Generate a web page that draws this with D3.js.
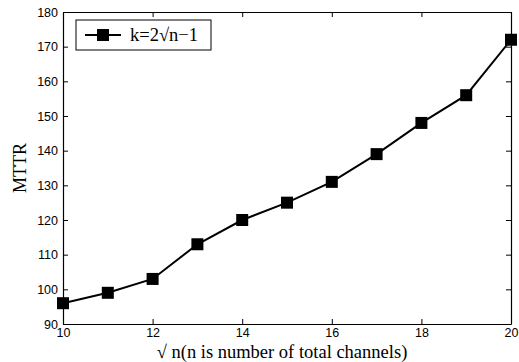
<!DOCTYPE html>
<html>
<head>
<meta charset="utf-8">
<script src="https://cdn.jsdelivr.net/npm/d3@7"></script>
<style>
  body { margin: 0; background: #fff; }
  .tick text { font-family: "Liberation Sans", Arial, sans-serif; font-size: 12.5px; fill: #000; }
</style>
</head>
<body>
<div id="chart"></div>
<script>
// MTTR line chart

var sqrtN = [10, 11, 12, 13, 14, 15, 16, 17, 18, 19, 20];
var mttr = [96, 99, 103, 113, 120, 125, 131, 139, 148, 156, 172];
var xTicks = [10, 12, 14, 16, 18, 20];
var yTicks = [90, 100, 110, 120, 130, 140, 150, 160, 170, 180];
var seriesName = "k=2\u221An\u22121";

var margin = {top: 12, right: 8, bottom: 38, left: 63};
var width = 519 - margin.left - margin.right;
var height = 362 - margin.top - margin.bottom;

var svg = d3.select("#chart")
    .append("svg")
    .attr("width", 519)
    .attr("height", 362);

var g = svg.append("g")
    .attr("transform", "translate(" + margin.left + "," + margin.top + ")");

var x = d3.scaleLinear().domain([10, 20]).range([0, width]);
var y = d3.scaleLinear().domain([90, 180]).range([height, 0]);

// axes with inward ticks, mirrored on top and right
g.append("g")
    .attr("transform", "translate(0," + height + ")")
    .call(d3.axisBottom(x).tickValues(xTicks).tickSizeInner(-5).tickSizeOuter(0).tickPadding(4));
g.append("g")
    .call(d3.axisLeft(y).tickValues(yTicks).tickSizeInner(-5).tickSizeOuter(0).tickPadding(5));
g.append("g")
    .call(d3.axisTop(x).tickValues(xTicks).tickSizeInner(-5).tickSizeOuter(0).tickFormat(""));
g.append("g")
    .attr("transform", "translate(" + width + ",0)")
    .call(d3.axisRight(y).tickValues(yTicks).tickSizeInner(-5).tickSizeOuter(0).tickFormat(""));

g.selectAll(".domain").attr("stroke", "#000").attr("stroke-width", 1.2);
g.selectAll(".tick line").attr("stroke", "#000");

// line + square markers
var line = d3.line()
    .x(function(d, i) { return x(sqrtN[i]); })
    .y(function(d) { return y(d); });

g.append("path")
    .datum(mttr)
    .attr("d", line)
    .attr("fill", "none")
    .attr("stroke", "#000")
    .attr("stroke-width", 2);

var ms = 12;
g.selectAll("rect.pt")
    .data(mttr)
    .enter()
    .append("rect")
    .attr("class", "pt")
    .attr("x", function(d, i) { return x(sqrtN[i]) - ms / 2; })
    .attr("y", function(d) { return y(d) - ms / 2; })
    .attr("width", ms)
    .attr("height", ms)
    .attr("fill", "#000");

// legend
var lg = svg.append("g").attr("transform", "translate(76,20)");
lg.append("rect")
    .attr("width", 135).attr("height", 30)
    .attr("fill", "#fff").attr("stroke", "#000").attr("stroke-width", 1);
lg.append("line")
    .attr("x1", 9).attr("x2", 45).attr("y1", 15).attr("y2", 15)
    .attr("stroke", "#000").attr("stroke-width", 2);
lg.append("rect")
    .attr("x", 27 - ms / 2).attr("y", 15 - ms / 2)
    .attr("width", ms).attr("height", ms).attr("fill", "#000");
lg.append("text")
    .attr("x", 54).attr("y", 21)
    .attr("font-family", "'Liberation Serif', 'Times New Roman', serif")
    .attr("font-size", 18.5)
    .text(seriesName);

// axis titles
svg.append("text")
    .attr("x", 282).attr("y", 358)
    .attr("text-anchor", "middle")
    .attr("font-family", "'Liberation Serif', 'Times New Roman', serif")
    .attr("font-size", 18.5)
    .text("\u221A n(n is number of total channels)");

svg.append("text")
    .attr("transform", "translate(26,168) rotate(-90)")
    .attr("text-anchor", "middle")
    .attr("font-family", "'Liberation Serif', 'Times New Roman', serif")
    .attr("font-size", 18)
    .text("MTTR");
</script>
</body>
</html>
